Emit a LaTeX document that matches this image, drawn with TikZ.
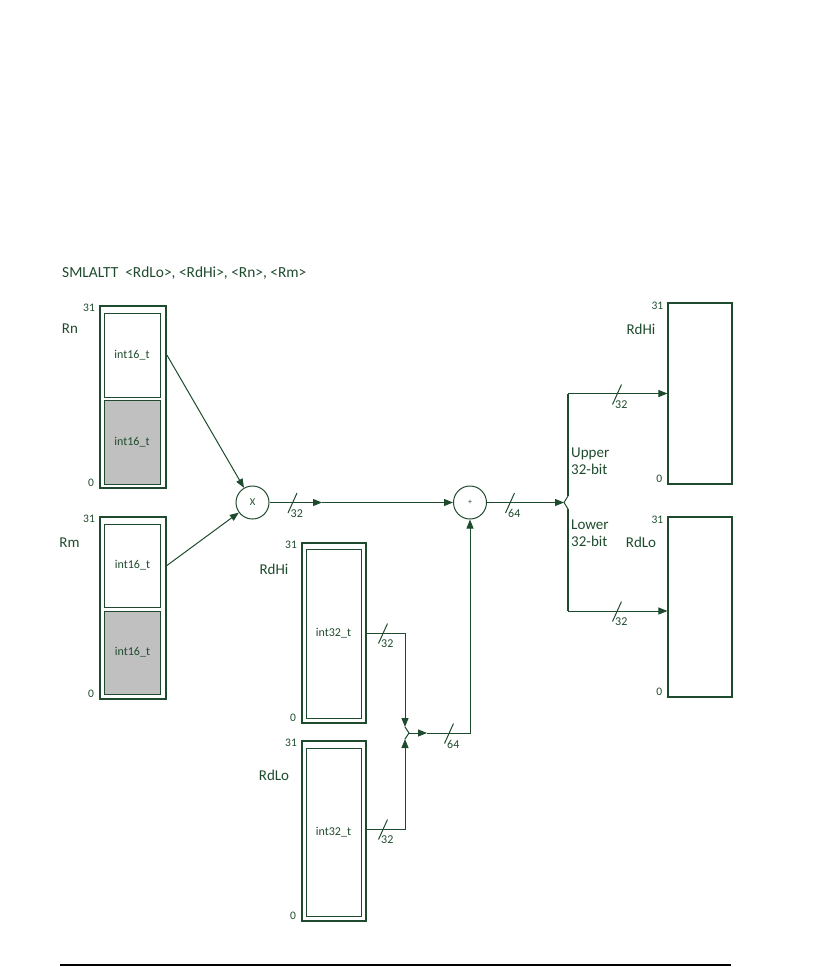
\documentclass[tikz,border=0pt]{standalone}
\usepackage{fontspec}
\setmainfont{Carlito}
\usetikzlibrary{arrows.meta}

\begin{document}
\begin{tikzpicture}[x=1pt,y=-1pt]
        \definecolor{regink}{RGB}{30,75,45}
        \definecolor{lanegrey}{RGB}{192,192,192}
        \tikzset{
            regbox/.style={draw=regink,line width=1.8pt,minimum width=66pt,inner sep=0pt},
            outbox/.style={draw=regink,line width=1.1pt,minimum width=64pt,inner sep=0pt},
            lanebox/.style={draw=regink,line width=1pt,minimum width=56pt,inner sep=0pt,
                text=regink,font=\fontsize{12}{14}\selectfont},
            lanegray/.style={fill=lanegrey},
            opcircle/.style={circle,draw=regink,line width=1pt,minimum size=33pt,inner sep=0pt,
                text=regink,font=\fontsize{10.5}{12}\selectfont},
            reglabel/.style={text=regink,inner sep=0pt,font=\fontsize{15}{17}\selectfont},
            bitnum/.style={text=regink,inner sep=0pt,font=\fontsize{11.5}{13}\selectfont},
            buslabel/.style={text=regink,inner sep=0pt,font=\fontsize{12}{14}\selectfont},
            wire/.style={draw=regink,line width=1pt},
            bus/.style={wire,-{Triangle[length=9pt,width=7pt]}}
        }

        \useasboundingbox (0,0) rectangle (834,967);

        % title
        \node[reglabel,anchor=west,font=\fontsize{15.4}{17}\selectfont] (title) at (62,273)
            {SMLALTT\ \ <RdLo>, <RdHi>, <Rn>, <Rm>};

        % source registers
        \node[regbox,minimum height=182pt] (rn) at (133,397) {};
        \node[lanebox,minimum height=84pt] (rnhi) at (132,355) {int16\_t};
        \node[lanebox,lanegray,minimum height=84pt] (rnlo) at (132,442) {int16\_t};

        \node[regbox,minimum height=182pt] (rm) at (133,608) {};
        \node[lanebox,minimum height=83pt] (rmhi) at (132.5,565.5) {int16\_t};
        \node[lanebox,lanegray,minimum height=83pt] (rmlo) at (132.5,652.5) {int16\_t};

        \node[regbox,minimum width=64pt,minimum height=180pt] (rdhiin) at (334,633) {};
        \node[lanebox,minimum width=55pt,minimum height=169pt] (rdhiw) at (333.5,633.5) {int32\_t};

        \node[regbox,minimum width=64pt,minimum height=180pt] (rdloin) at (334,831) {};
        \node[lanebox,minimum width=55pt,minimum height=168pt] (rdlow) at (333.5,832) {int32\_t};

        % destination registers
        \node[outbox,minimum height=181pt] (rdhiout) at (700,393.5) {};
        \node[outbox,minimum height=180pt] (rdloout) at (700,607) {};

        % register names
        \node[reglabel] (rnname) at (70,329) {Rn};
        \node[reglabel] (rmname) at (69.5,543) {Rm};
        \node[reglabel] (rdhiinname) at (274,569) {RdHi};
        \node[reglabel] (rdloinname) at (274,775) {RdLo};
        \node[reglabel] (rdhioutname) at (641,329) {RdHi};
        \node[reglabel] (rdlooutname) at (641,542) {RdLo};

        % bit numbers
        \foreach \b in {rn,rm,rdhiin,rdloin,rdhiout,rdloout} {
            \node[bitnum,anchor=east] (\b-msb) at ([xshift=-4pt,yshift=-3pt]\b.north west) {31};
            \node[bitnum,anchor=east] (\b-lsb) at ([xshift=-5pt,yshift=6pt]\b.south west) {0};
        }

        % operators
        \node[opcircle] (mul) at (252.5,502.5) {X};
        \node[opcircle,font=\fontsize{8}{9}\selectfont] (add) at (470,502.5) {+};

        % multiply
        \draw[bus] (rn.east |- rnhi.east) -- (mul);
        \draw[bus] (rm.east |- rmhi.east) -- (mul);

        \coordinate (mulmid) at (322,502.5);
        \draw[bus] (mul) -- (mulmid);
        \draw[bus] (mulmid) -- (add);

        % accumulator in
        \coordinate (jtop) at (405,727);
        \coordinate (jbot) at (405,739);
        \coordinate (join) at (409,733);
        \coordinate (joinmid) at (427,733);
        \draw[bus] (rdhiin.east) -| (jtop);
        \draw[bus] ([yshift=2pt]rdloin.east) -| (jbot);
        \draw[wire] (jtop) -- (join) -- (jbot);
        \draw[bus] (join) -- (joinmid);
        \draw[bus] (joinmid) -| (add);

        % split to result
        \coordinate (split) at (564,502.5);
        \coordinate (upkink) at (568,496);
        \coordinate (lokink) at (568,509);
        \draw[bus] (add) -- (split);
        \draw[wire] (upkink) -- (split) -- (lokink);
        \draw[wire,line width=1.8pt] (upkink) -- (upkink |- rdhiout.west);
        \draw[wire,line width=1.8pt] (lokink) -- (568,611);
        \draw[bus] (upkink |- rdhiout.west) -- (rdhiout.west);
        \draw[bus] (568,611) -- ([yshift=-4pt]rdloout.west);

        \node[reglabel,align=left,anchor=west] (upper) at (571,461.5) {Upper\\32-bit};
        \node[reglabel,align=left,anchor=west] (lower) at (571,533) {Lower\\32-bit};

        % bus widths
        \foreach \x/\y/\w [count=\i] in {292.5/502.5/32, 510/502.5/64, 617/394/32, 617/611/32,
                383/633/32, 383/829/32, 449/733/64} {
            \draw[wire] (\x-4.5,\y+10.5) -- (\x+4.5,\y-9.5);
            \node[buslabel,anchor=west] (width\i) at (\x-2,\y+11) {\w};
        }

        % rule
        \draw[line width=2pt] (60,965) -- (731,965);
\end{tikzpicture}
\end{document}
